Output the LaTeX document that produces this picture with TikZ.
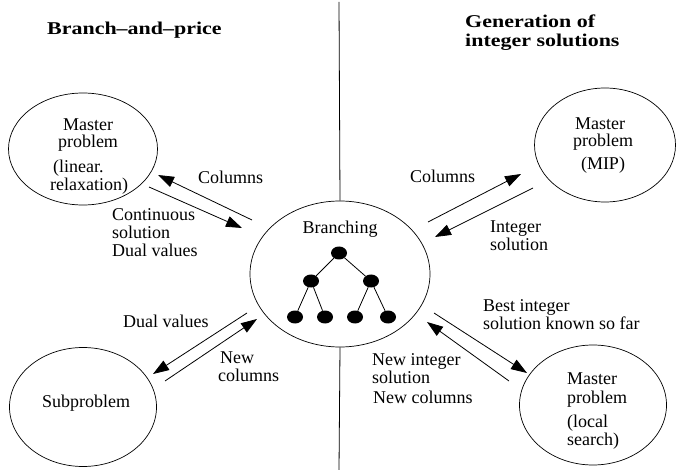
\documentclass[tikz,border=0pt]{standalone}
\usepackage{fontspec}
\setmainfont{Liberation Serif}
\newfontfamily\headfont[FakeStretch=1.22]{Liberation Serif}
\usetikzlibrary{shapes.geometric,arrows.meta}

\begin{document}
\begin{tikzpicture}[x=1pt,y=-1pt,
  region/.style={draw, ellipse, line width=0.7pt, inner sep=0pt},
  title/.style={font=\headfont\bfseries\fontsize{18}{18}\selectfont, inner sep=0pt, anchor=base west},
  txt/.style={font=\fontsize{18}{18}\selectfont, inner sep=0pt, anchor=base},
  txtl/.style={font=\fontsize{18}{18}\selectfont, inner sep=0pt, anchor=base west},
  flow/.style={line width=0.8pt, -{Triangle[length=16pt,width=11pt]}},
  dot/.style={fill, ellipse, minimum width=16pt, minimum height=13pt, inner sep=0pt},
  twig/.style={line width=0.8pt}]

\useasboundingbox (0,0) rectangle (677,470);

% section headings
\node[title] (bp)   at (47,35) {Branch–and–price};
\node[title] (gen1) at (465,28) {Generation of};
\node[title] (gen2) at (465,47) {integer solutions};

% the five problem regions
\node[region, minimum width=149pt, minimum height=112pt] (lp)  at (83,149) {};
\node[region, minimum width=141pt, minimum height=114pt] (mip) at (605,145) {};
\node[region, minimum width=147pt, minimum height=119pt] (sub) at (83,407) {};
\node[region, minimum width=147pt, minimum height=120pt] (ls)  at (593,405) {};
\node[region, minimum width=180pt, minimum height=146pt] (br)  at (340,274) {};

% divider between the two schemes
\coordinate (divtop) at (339,2);
\coordinate (divbot) at (339,470);
\draw[line width=0.8pt] (divtop) -- (br.north);
\draw[line width=0.8pt] (br.south) -- (divbot);

% texts inside the regions
\node[txt]  (lp1) at (88,131) {Master};
\node[txt]  (lp2) at (88,148) {problem};
\node[txtl] (lp3) at (53,173) {(linear.};
\node[txtl] (lp4) at (50,191) {relaxation)};

\node[txt] (mip1) at (600,130) {Master};
\node[txt] (mip2) at (603,147) {problem};
\node[txt] (mip3) at (603,170) {(MIP)};

\node[txtl] (ls1) at (567,384) {Master};
\node[txtl] (ls2) at (567,403) {problem};
\node[txtl] (ls3) at (567,427) {(local};
\node[txtl] (ls4) at (567,445) {search)};

\node[txt] (sub1) at (86,407) {Subproblem};
\node[txt] (br1)  at (340,234) {Branching};

% branching tree
\node[dot] (t0)  at (339,253) {};
\node[dot] (t1)  at (311,281) {};
\node[dot] (t2)  at (371,281) {};
\node[dot] (t11) at (295,317) {};
\node[dot] (t12) at (325,317) {};
\node[dot] (t21) at (355,317) {};
\node[dot] (t22) at (388,317) {};
\draw[twig] (t0) -- (t1);
\draw[twig] (t0) -- (t2);
\draw[twig] (t1) -- (t11);
\draw[twig] (t1) -- (t12);
\draw[twig] (t2) -- (t21);
\draw[twig] (t2) -- (t22);

% arrow end points
\coordinate (a1s) at (252,220); \coordinate (a1e) at (158,175);
\coordinate (a2s) at (149,187); \coordinate (a2e) at (242,228);
\coordinate (a3s) at (247,313); \coordinate (a3e) at (153,374);
\coordinate (a4s) at (165,381); \coordinate (a4e) at (257,319);
\coordinate (a5s) at (428,222); \coordinate (a5e) at (521,174);
\coordinate (a6s) at (533,188); \coordinate (a6e) at (435,237);
\coordinate (a7s) at (434,313); \coordinate (a7e) at (527,373);
\coordinate (a8s) at (509,381); \coordinate (a8e) at (427,322);

\draw[flow] (a1s) -- (a1e);
\draw[flow] (a2s) -- (a2e);
\draw[flow] (a3s) -- (a3e);
\draw[flow] (a4s) -- (a4e);
\draw[flow] (a5s) -- (a5e);
\draw[flow] (a6s) -- (a6e);
\draw[flow] (a7s) -- (a7e);
\draw[flow] (a8s) -- (a8e);

% arrow labels
\node[txtl] (c1)  at (198,184) {Columns};
\node[txtl] (c2a) at (112,221) {Continuous};
\node[txtl] (c2b) at (112,239) {solution};
\node[txtl] (c2c) at (112,257) {Dual values};
\node[txtl] (c3)  at (123,327) {Dual values};
\node[txtl] (c4a) at (220,363) {New};
\node[txtl] (c4b) at (218,381) {columns};
\node[txtl] (c5)  at (410,183) {Columns};
\node[txtl] (c6a) at (490,233) {Integer};
\node[txtl] (c6b) at (490,251) {solution};
\node[txtl] (c7a) at (483,311) {Best integer};
\node[txtl] (c7b) at (483,329) {solution known so far};
\node[txtl] (c8a) at (372,365) {New integer};
\node[txtl] (c8b) at (372,383) {solution};
\node[txtl] (c8c) at (373,403) {New columns};
\end{tikzpicture}
\end{document}
